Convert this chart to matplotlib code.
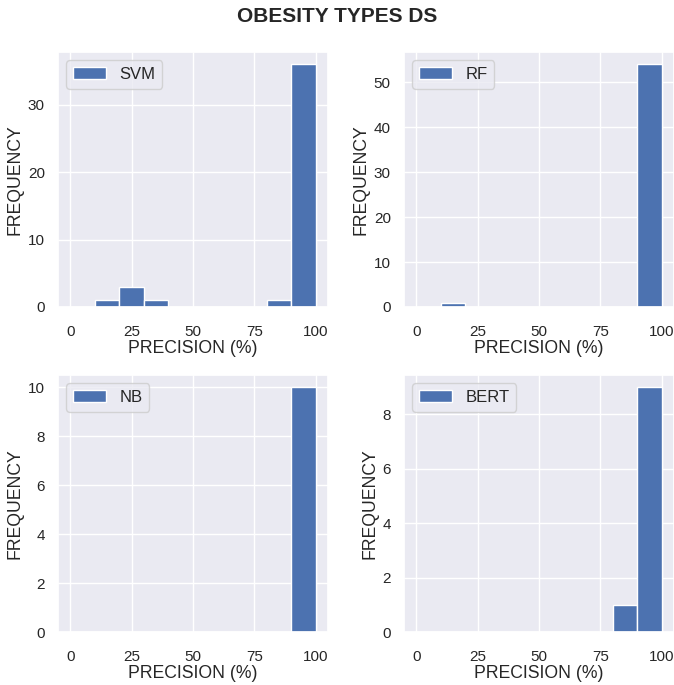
import matplotlib.pyplot as plt
import seaborn as sns
import numpy as np
from matplotlib.ticker import MaxNLocator

sns.set_theme(style="darkgrid")
plt.rcParams['font.family'] = ['Liberation Sans', 'DejaVu Sans']

# bin edges of the precision histograms (%)
bin_edges = np.arange(0, 101, 10)
bin_mids = bin_edges[:-1] + 5

# counts per bin: 0-10, 10-20, ..., 90-100
svm_counts = [0, 1, 3, 1, 0, 0, 0, 0, 1, 36]
rf_counts = [0, 1, 0, 0, 0, 0, 0, 0, 0, 54]
nb_counts = [0, 0, 0, 0, 0, 0, 0, 0, 0, 10]
bert_counts = [0, 0, 0, 0, 0, 0, 0, 0, 1, 9]

models = ["SVM", "RF", "NB", "BERT"]
all_counts = [svm_counts, rf_counts, nb_counts, bert_counts]

W, H = 674, 685
fig = plt.figure(figsize=(W / 100, H / 100), dpi=100)

# axes boxes in pixels (left, top, right, bottom)
boxes = [(58, 52, 328, 307), (404, 52, 674, 307),
         (58, 375, 328, 632), (404, 375, 674, 632)]

for name, counts, (l, t, r, b) in zip(models, all_counts, boxes):
    ax = fig.add_axes([l / W, 1 - b / H, (r - l) / W, (b - t) / H])
    ax.hist(bin_mids, bins=bin_edges, weights=counts, color="#4C72B0",
            edgecolor="white", linewidth=1, label=name)
    ax.set_xticks([0, 25, 50, 75, 100])
    ax.yaxis.set_major_locator(MaxNLocator(nbins=6, steps=[1, 2, 10]))
    ax.set_xlabel("PRECISION (%)", fontsize=12.7, labelpad=1)
    ax.set_ylabel("FREQUENCY", fontsize=12.7, labelpad=3)
    ax.tick_params(labelsize=11)
    ax.tick_params(axis="x", pad=7)
    ax.legend(loc="upper left", fontsize=12)

fig.text(0.5, 1 - 17 / H, "OBESITY TYPES DS", ha="center", va="center",
         fontsize=15, fontweight="bold")

plt.savefig("out.png", dpi=100)
